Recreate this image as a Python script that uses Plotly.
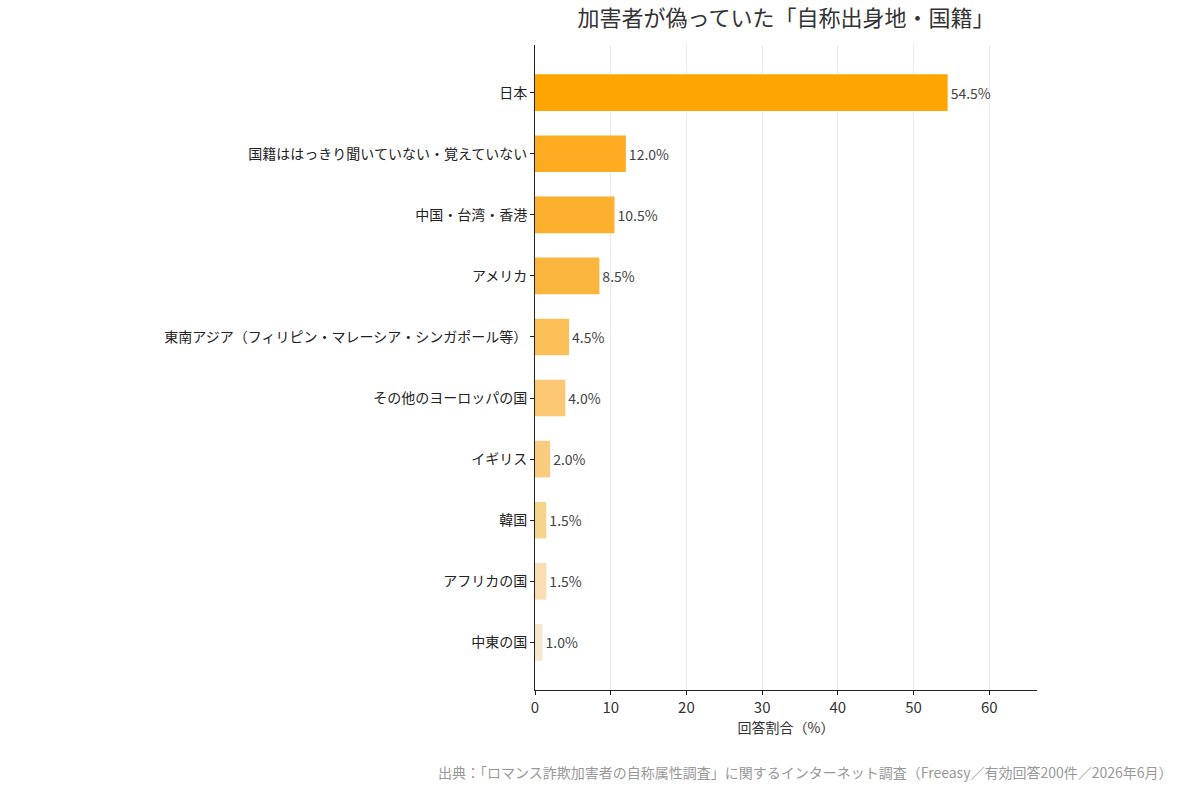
import plotly.graph_objects as go

categories = ["日本", "国籍ははっきり聞いていない・覚えていない", "中国・台湾・香港", "アメリカ",
              "東南アジア（フィリピン・マレーシア・シンガポール等）", "その他のヨーロッパの国",
              "イギリス", "韓国", "アフリカの国", "中東の国"]
values = [54.5, 12.0, 10.5, 8.5, 4.5, 4.0, 2.0, 1.5, 1.5, 1.0]
colors = ["#FFA500", "#FDAC22", "#FDAF2E", "#FBB63F", "#FBC158", "#FBC772",
          "#F9CB7E", "#F5D48C", "#FADDB2", "#F6E8CF"]
tick_vals = [0, 10, 20, 30, 40, 50, 60]

FONT = "Noto Sans CJK JP"

fig = go.Figure(go.Bar(
    x=values, y=categories, orientation="h",
    marker=dict(color=colors, line=dict(width=0)),
    width=0.6,
    text=[f"{v:.1f}%" for v in values], textposition="outside",
    textfont=dict(family=FONT, size=14, color="#444444"),
    cliponaxis=False,
))

fig.update_layout(
    width=1200, height=800,
    margin=dict(l=535, r=163, t=45, b=110),
    plot_bgcolor="white", paper_bgcolor="white",
    font=dict(family=FONT, size=14, color="#333333"),
    title=dict(text="加害者が偽っていた「自称出身地・国籍」", x=0.5, xref="paper",
               y=1 - 18 / 800, yref="container", yanchor="middle", xanchor="center",
               font=dict(family=FONT, size=22, color="#333333")),
    showlegend=False,
    bargap=0.4,
)
fig.update_xaxes(range=[0, 66.3], tickvals=tick_vals, showgrid=True, gridcolor="#EFEAF2",
                 gridwidth=1, showline=True, linecolor="#222222", linewidth=1,
                 ticks="outside", ticklen=4, tickcolor="#222222", zeroline=False,
                 tickfont=dict(size=15, color="#333333"),
                 title=dict(text="回答割合（%）", font=dict(size=14, color="#333333"), standoff=5))
fig.update_yaxes(categoryorder="array", categoryarray=categories, autorange=False,
                 range=[9.78, -0.78], showline=True, linecolor="#222222", linewidth=1,
                 ticks="outside", ticklen=4, tickcolor="#222222", showgrid=False,
                 tickfont=dict(size=14, color="#222222"))

fig.add_annotation(text="出典：「ロマンス詐欺加害者の自称属性調査」に関するインターネット調査（Freeasy／有効回答200件／2026年6月）",
                   xref="paper", yref="paper", x=(1175 - 535) / 502, y=-(772 - 690) / 645,
                   xanchor="right", yanchor="middle", showarrow=False,
                   font=dict(family=FONT, size=14, color="#999999"))

fig.write_html("out.html")
